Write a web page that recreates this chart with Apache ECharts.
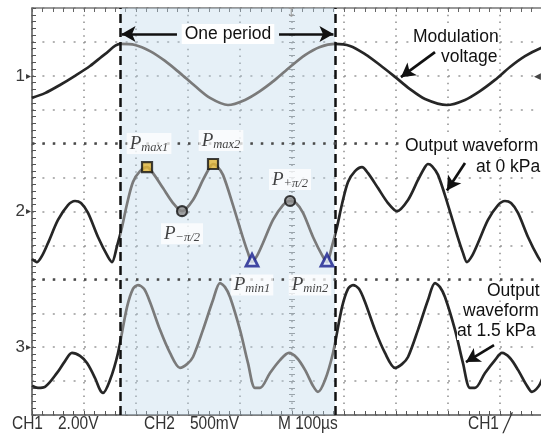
<!DOCTYPE html>
<html><head><meta charset="utf-8">
<script src="https://cdn.jsdelivr.net/npm/echarts@6/dist/echarts.min.js"></script>
<style>html,body{margin:0;padding:0;background:#fff}#c{width:541px;height:436px}</style>
</head><body><div id="c"></div>
<script>
// time in microseconds (100 us / div, 0 = screen centre); amplitude in screen divisions (0 = centre)
const ch1Time = [-500,-475,-446.2,-417.3,-388.5,-359.6,-330.8,-301.9,-273.1,-244.2,-215.4,-186.5,-157.7,-123.1,-90.4,-61.5,-32.7,-3.8,25,53.8,82.7,111.5,140.4,169.2,198.1,226.9,255.8,298.1,332.7,361.5,390.4,419.2,448.1,478.8,500];
const ch1Div  = [3.35,3.49,3.73,4.00,4.29,4.64,4.94,4.91,4.73,4.44,4.08,3.70,3.35,3.14,3.29,3.55,3.88,4.26,4.61,4.85,4.94,4.88,4.64,4.32,3.97,3.61,3.32,3.14,3.29,3.55,3.88,4.26,4.58,4.82,4.92];

const ch2Time = [-500,-490.4,-480.8,-469.2,-450,-430.8,-417.3,-405.8,-392.3,-373.1,-353.8,
  -346.2,-336.5,-326.9,-317.3,-305.8,-292.3,-278.8,-267.3,-248.1,-228.8,-211.5,-190.4,-171.2,-157.7,-151.9,-144.2,-132.7,-113.5,-94.2,-84.6,-76.9,-67.3,-55.8,-36.5,-17.3,-3.8,7.7,21.2,40.4,59.6,
  67.3,76.9,86.5,96.2,107.7,121.2,134.6,146.2,165.4,184.6,201.9,223.1,242.3,255.8,261.5,269.2,280.8,300,319.2,328.8,336.5,346.2,357.7,376.9,396.2,409.6,421.2,434.6,453.8,473.1,480.8,490.4,500];
const ch2Div  = [-1.40,-1.49,-1.31,-0.93,-0.25,0.19,0.31,0.25,-0.04,-0.75,-1.34,
  -1.49,-1.02,-0.46,0.22,0.87,1.19,1.31,1.13,0.69,0.25,0.01,0.34,0.93,1.31,1.40,1.34,1.08,0.19,-0.78,-1.22,-1.49,-1.31,-0.93,-0.25,0.19,0.31,0.25,-0.04,-0.75,-1.34,
  -1.49,-1.02,-0.46,0.22,0.87,1.19,1.31,1.13,0.69,0.25,0.01,0.34,0.93,1.31,1.40,1.34,1.08,0.19,-0.78,-1.22,-1.49,-1.31,-0.93,-0.25,0.19,0.31,0.25,-0.04,-0.75,-1.34,-1.49,-1.02,-0.46];

const ch3Time = [-500,-488.5,-475,-451.9,-436.5,-423.1,-407.7,-394.2,-378.8,-369.2,-363.5,
  -350,-334.6,-317.3,-305.8,-296.2,-284.6,-273.1,-253.8,-234.6,-215.4,
  -201.9,-190.4,-171.2,-151.9,-138.5,-128.8,-119.2,-100,-84.6,-71.2,
  -61.5,-42.3,-23.1,-5.8,9.6,25,40.4,50,
  63.5,78.8,96.2,107.7,117.3,128.8,140.4,159.6,178.8,198.1,
  211.5,223.1,242.3,261.5,275,284.6,294.2,313.5,328.8,342.3,
  351.9,371.2,390.4,403.8,419.2,434.6,451.9,461.5,476.9,492.3,500];
const ch3Div  = [-5.14,-5.20,-5.17,-4.76,-4.41,-4.17,-4.26,-4.47,-4.91,-5.26,-5.35,
  -4.97,-4.17,-2.82,-2.28,-2.17,-2.28,-2.67,-3.49,-4.17,-4.61,
  -4.50,-4.29,-3.49,-2.61,-2.11,-2.23,-2.52,-3.49,-4.47,-5.20,
  -5.20,-4.76,-4.38,-4.17,-4.32,-4.67,-5.14,-5.32,
  -4.97,-4.17,-2.82,-2.28,-2.17,-2.28,-2.67,-3.49,-4.17,-4.61,
  -4.50,-4.29,-3.49,-2.61,-2.11,-2.23,-2.52,-3.49,-4.47,-5.20,
  -5.20,-4.76,-4.38,-4.17,-4.32,-4.67,-5.14,-5.32,-5.09,-4.38,-3.79];

const periodBounds = [-330.8, 82.7];
const markerKinds  = ['max','pi','max','min','pi','min'];
const markerSubs   = ['max1','\u2212\u03c0/2','max2','min1','+\u03c0/2','min2'];
const markerTime   = [-278.8,-211.5,-151.9,-76.9,-3.8,67.3];
const markerDiv    = [1.31,0.01,1.40,-1.49,0.31,-1.49];
const channelGrounds = [4,0,-4];
const channelLabels  = ['1','2','3'];
const heavyGridDiv   = [2,-2];
const bottomTexts    = ['CH1','2.00V','CH2','500mV','M 100\u00b5s','CH1 \u2571'];

const pairs = (t, v) => t.map((x, i) => [x, v[i]]);

const markerStyle = {
  max: {symbol:'rect', symbolSize:10, itemStyle:{color:'#e2b536', borderColor:'#111', borderWidth:2.2}},
  min: {symbol:'triangle', symbolSize:12, symbolOffset:[0,-2], itemStyle:{color:'#e4ecf7', borderColor:'#161d8c', borderWidth:2.8}},
  pi:  {symbol:'circle', symbolSize:10, itemStyle:{color:'#8c8c8c', borderColor:'#111', borderWidth:2.2}}
};
const labelPlace = [
  {position:'top', distance:7, offset:[2,0]},
  {position:'bottom', distance:6, offset:[0,0]},
  {position:'top', distance:7, offset:[8,0]},
  {position:'bottom', distance:5, offset:[0,2]},
  {position:'top', distance:5, offset:[0,0]},
  {position:'bottom', distance:5, offset:[-17,2]}
];
const markerData = markerTime.map((t, i) => Object.assign({
  value:[t, markerDiv[i]],
  label:Object.assign({show:true, formatter:'{p|P}{s|' + markerSubs[i] + '}'}, labelPlace[i])
}, markerStyle[markerKinds[i]]));

const traceBase = {type:'line', showSymbol:false, smooth:0.3, z:3, silent:true,
  lineStyle:{width:2.7}, xAxisIndex:0, yAxisIndex:0};

const arrowY = 5.23;
const arrowLines = [
  [{coord:[-221.2, arrowY]}, {coord:[periodBounds[0] + 3, arrowY]}],
  [{coord:[-25, arrowY]}, {coord:[periodBounds[1] - 3, arrowY]}],
  [{coord:[275, 4.70]}, {coord:[209.5, 3.96]}],
  [{coord:[332.7, 1.43]}, {coord:[298, 0.62]}],
  [{coord:[388.5, -3.94]}, {coord:[334.5, -4.44]}]
];

const sansText = (x, y, text, o) => ({type:'text', x:x, y:y, z:50, scaleX:(o && o.sx) || 1,
  style:Object.assign({text:text, fill:'#111', fontFamily:'Liberation Sans, Arial, sans-serif', fontSize:17.5,
    align:'left', verticalAlign:'middle'}, (o && o.style) || {})});

const bottomX = [12, 58, 144, 190, 278, 468];
const chart = echarts.init(document.getElementById('c'), null, {renderer:'canvas'});
chart.setOption({
  animation:false,
  backgroundColor:'#ffffff',
  grid:{left:32, top:8, width:520, height:407, show:false, outerBoundsMode:'none'},
  xAxis:[
    {type:'value', min:-500, max:500, interval:100, position:'bottom',
     axisLine:{onZero:false, lineStyle:{color:'#555', width:1.5}},
     axisTick:{inside:true, length:4, lineStyle:{color:'#555'}},
     minorTick:{show:true, splitNumber:5, length:4, lineStyle:{color:'#555'}},
     axisLabel:{show:false},
     splitLine:{show:true, lineStyle:{color:'#8e8e8e', width:1.5, type:[1.5,5.3]}}},
    {type:'value', min:-500, max:500, interval:100, position:'top',
     axisLine:{onZero:false, lineStyle:{color:'#777', width:1.5}},
     axisTick:{inside:true, length:4, lineStyle:{color:'#666'}},
     minorTick:{show:true, splitNumber:5, length:4, lineStyle:{color:'#666'}},
     axisLabel:{show:false}, splitLine:{show:false}}
  ],
  yAxis:[
    {type:'value', min:-6, max:6, interval:1, position:'left',
     axisLine:{onZero:false, lineStyle:{color:'#555', width:1.5}},
     axisTick:{inside:true, length:4, lineStyle:{color:'#555'}},
     minorTick:{show:true, splitNumber:5, length:4, lineStyle:{color:'#555'}},
     axisLabel:{show:true, margin:1,
       formatter:(v) => { const i = channelGrounds.indexOf(v); return i < 0 ? '' : '{n|' + channelLabels[i] + '}{a|\u25b8}'; },
       rich:{n:{fontSize:17, color:'#3a3a3a', fontFamily:'Liberation Sans, Arial, sans-serif'},
             a:{fontSize:10, color:'#3a3a3a', padding:[0,0,0,1]}}},
     splitLine:{show:true, lineStyle:{color:'#9a9a9a', width:1.5, type:[2,8.4]}}},
    {type:'value', min:-6, max:6, interval:1, position:'left',
     axisLine:{show:true, onZero:true, onZeroAxisIndex:0, lineStyle:{color:'rgba(0,0,0,0)'}},
     axisTick:{inside:true, length:3, lineStyle:{color:'#8a8a8a'}},
     minorTick:{show:true, splitNumber:5, length:3, lineStyle:{color:'#8a8a8a'}},
     axisLabel:{show:false}, splitLine:{show:false}},
    {type:'value', min:-6, max:6, interval:1, position:'left',
     axisLine:{show:true, onZero:true, onZeroAxisIndex:0, lineStyle:{color:'rgba(0,0,0,0)'}},
     axisTick:{inside:false, length:3, lineStyle:{color:'#8a8a8a'}},
     minorTick:{show:true, splitNumber:5, length:3, lineStyle:{color:'#8a8a8a'}},
     axisLabel:{show:false}, splitLine:{show:false}}
  ],
  visualMap:{type:'piecewise', show:false, dimension:0, seriesIndex:[0,1,2],
    pieces:[{gte:periodBounds[0], lte:periodBounds[1], color:'#7a7a7a'}],
    outOfRange:{color:'#262626'}},
  series:[
    Object.assign({}, traceBase, {name:'Modulation voltage', data:pairs(ch1Time, ch1Div),
      markArea:{silent:true, itemStyle:{color:'rgba(185,213,234,0.36)'},
        data:[[{xAxis:periodBounds[0]}, {xAxis:periodBounds[1]}]]},
      markLine:{silent:true, symbol:['none','none'], label:{show:false},
        data:[
          {xAxis:periodBounds[0], lineStyle:{color:'#111', width:2.5, type:[9,5]}},
          {xAxis:periodBounds[1], lineStyle:{color:'#111', width:2.5, type:[9,5]}},
          {yAxis:heavyGridDiv[0], lineStyle:{color:'#4a4a4a', width:2.5, type:[2.5,7.9]}},
          {yAxis:heavyGridDiv[1], lineStyle:{color:'#4a4a4a', width:2.5, type:[2.5,7.9]}}
        ]}}),
    Object.assign({}, traceBase, {name:'Output waveform at 0 kPa', data:pairs(ch2Time, ch2Div)}),
    Object.assign({}, traceBase, {name:'Output waveform at 1.5 kPa', data:pairs(ch3Time, ch3Div)}),
    {type:'scatter', name:'markers', z:10, data:markerData, silent:true,
     label:{color:'#111', backgroundColor:'rgba(255,255,255,0.92)', padding:[1,3,0,3],
       rich:{p:{fontFamily:'Liberation Serif, Times New Roman, serif', fontStyle:'italic', fontSize:19, color:'#111', verticalAlign:'middle', lineHeight:20},
             s:{fontFamily:'Liberation Serif, Times New Roman, serif', fontStyle:'italic', fontSize:12.5, color:'#111', verticalAlign:'bottom', lineHeight:20, padding:[7,0,0,0]}}},
     markLine:{silent:true, symbol:['none','arrow'], symbolSize:[12,14], label:{show:false},
       lineStyle:{color:'#111', width:2.7, type:'solid'}, data:arrowLines}}
  ],
  graphic:[
    sansText(228, 34, 'One period', {style:{align:'center', backgroundColor:'#fff', padding:[1,3,1,3]}}),
    sansText(413, 37, 'Modulation', {style:{backgroundColor:'#fff'}}),
    sansText(441, 57, 'voltage', {style:{backgroundColor:'#fff'}}),
    sansText(405, 146, 'Output waveform', {style:{backgroundColor:'#fff'}}),
    sansText(476, 167, 'at 0 kPa', {style:{backgroundColor:'#fff'}}),
    sansText(487, 291, 'Output', {style:{backgroundColor:'#fff'}}),
    sansText(463, 311, 'waveform', {style:{backgroundColor:'#fff'}}),
    sansText(457, 331, 'at 1.5 kPa', {style:{backgroundColor:'#fff'}}),
    sansText(291, 14, '\u21a7', {style:{align:'center', fontSize:12, fill:'#999', fontFamily:'DejaVu Sans'}}),
    sansText(534, 77, '\u25c0', {style:{fontSize:9, fill:'#444', fontFamily:'DejaVu Sans'}})
  ].concat(bottomTexts.map((t, i) => sansText(bottomX[i], 424, t,
    {sx:0.86, style:{fill:'#333', fontSize:18}})))
});
</script></body></html>
